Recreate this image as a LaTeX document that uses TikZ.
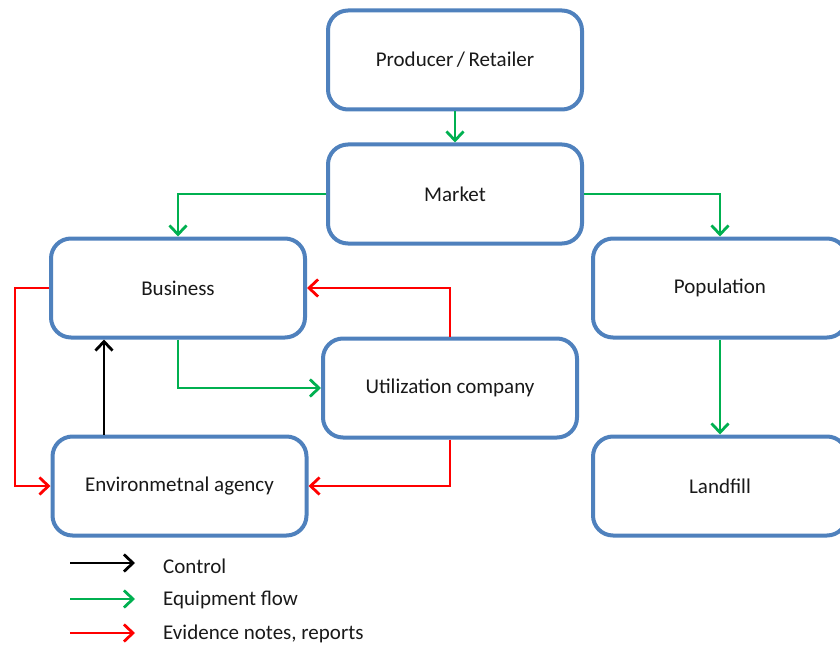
\documentclass[tikz,border=0pt]{standalone}
\usepackage{fontspec}
\setmainfont{Carlito}
\usetikzlibrary{arrows.meta}
\definecolor{boxblue}{RGB}{79,129,189}
\definecolor{flowgreen}{RGB}{0,176,80}
\definecolor{noteRed}{RGB}{255,0,0}
\begin{document}
\begin{tikzpicture}[x=1pt,y=-1pt,
  stage/.style={draw=boxblue, line width=4pt, fill=white, rounded corners=20pt,
    minimum width=254pt, minimum height=99pt, inner sep=0pt,
    font=\fontsize{21}{24}\selectfont, text=black!90},
  conn/.style={line width=2.8pt, -{Straight Barb[length=9pt,width=17pt]}},
  control/.style={conn, draw=black},
  equip/.style={conn, draw=flowgreen},
  evidence/.style={conn, draw=noteRed},
  legendtext/.style={anchor=west, inner sep=0pt, font=\fontsize{21}{24}\selectfont, text=black!90}]
  \useasboundingbox (0,0) rectangle (840,647);
  \clip (0,0) rectangle (840,647);

  % stages of the equipment life cycle
  \node[stage] (prod) at (455,60) {Producer\,/\,Retailer};
  \node[stage] (market) at (455,194) {Market};
  \node[stage] (business) at (178,288) {Business};
  \node[stage] (population) at (720,288) {Population};
  \node[stage] (util) at (450,388) {Utilization company};
  \node[stage] (env) at (179.5,486) {Environmetnal agency};
  \node[stage] (landfill) at (720,486) {Landfill};

  % helper points for routed connectors
  \coordinate (leftrail) at (15,288);
  \coordinate (ctrlx) at (104,0);

  % equipment flow
  \draw[equip] (prod.south) -- (market.north);
  \draw[equip] (market.west) -| (business.north);
  \draw[equip] (market.east) -| (population.north);
  \draw[equip] (population.south) -- (landfill.north);
  \draw[equip] (business.south) |- (util.west);

  % evidence notes and reports
  \draw[evidence] (util.north) |- (business.east);
  \draw[evidence] (util.south) |- (env.east);
  \draw[evidence] (business.west) -- (leftrail) |- (env.west);

  % control
  \draw[control] (env.north -| ctrlx) -- (business.south -| ctrlx);

  % legend
  \coordinate (l1a) at (70,563);  \coordinate (l1b) at (135,563);
  \coordinate (l2a) at (70,599);  \coordinate (l2b) at (135,599);
  \coordinate (l3a) at (70,633);  \coordinate (l3b) at (135,633);
  \draw[control] (l1a) -- (l1b);
  \draw[equip] (l2a) -- (l2b);
  \draw[evidence] (l3a) -- (l3b);
  \node[legendtext] (lt1) at (163,566) {Control};
  \node[legendtext] (lt2) at (163,600) {Equipment flow};
  \node[legendtext] (lt3) at (163,634) {Evidence notes, reports};
\end{tikzpicture}
\end{document}
